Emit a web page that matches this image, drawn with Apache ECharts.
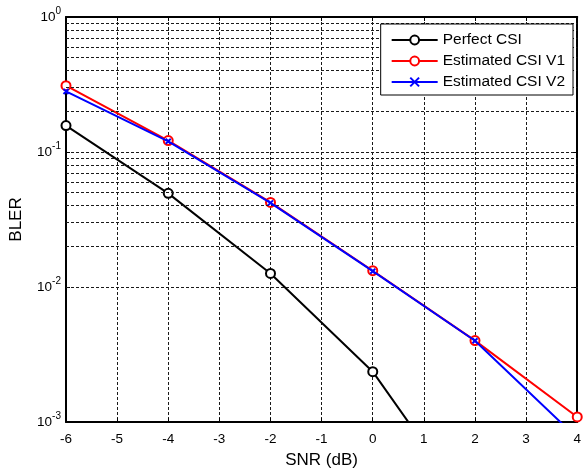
<!DOCTYPE html>
<html>
<head>
<meta charset="utf-8">
<script src="https://cdn.jsdelivr.net/npm/echarts@6/dist/echarts.min.js"></script>
<style>
  html, body { margin: 0; padding: 0; background: #fff; }
  #chart { width: 584px; height: 474px; }
</style>
</head>
<body>
<div id="chart"></div>
<script>
// SNR points (dB) and block error rates for each receiver variant
const snr = [-6, -4, -2, 0, 2, 4];
const perfectCsi = [0.157, 0.0494, 0.0126, 0.00236, 0.00020, null];
const estimatedV1 = [0.31, 0.1216, 0.0423, 0.0132, 0.00401, 0.00109];
const estimatedV2 = [0.281, 0.120, 0.0420, 0.0131, 0.00400, 0.00076];
const seriesNames = ['Perfect CSI', 'Estimated CSI V1', 'Estimated CSI V2'];
const xTickValues = [-6, -5, -4, -3, -2, -1, 0, 1, 2, 3, 4];
const decades = [0.001, 0.01, 0.1];
const minorSteps = [2, 3, 4, 5, 6, 7, 8, 9];

const font = 'Liberation Sans, Arial, Helvetica, sans-serif';
const dash = [3, 2];
const gridColor = '#1a1a1a';

// log-axis minor grid at 2..9 × each decade
const minorGrid = [];
decades.forEach(d => minorSteps.forEach(m => minorGrid.push({ yAxis: +(d * m).toPrecision(3) })));

function pairs(ys) {
  return snr.map((x, i) => (ys[i] == null ? null : [x, ys[i]])).filter(p => p);
}

const crossPath = 'path://M0,0 L10,10 M10,0 L0,10 M0,0 L10,10';

const chart = echarts.init(document.getElementById('chart'), null, { renderer: 'canvas' });

const xCommon = {
  type: 'value', min: -6, max: 4, interval: 1,
  axisLine: { show: true, onZero: false, lineStyle: { color: '#000', width: 2 } },
  axisTick: { show: true, inside: true, length: 4, lineStyle: { color: '#000' } },
};
const yCommon = {
  type: 'log', logBase: 10, min: 0.001, max: 1,
  axisLine: { show: true, onZero: false, lineStyle: { color: '#000', width: 2 } },
  axisTick: { show: true, inside: true, length: 4, lineStyle: { color: '#000' } },
};

chart.setOption({
  animation: false,
  backgroundColor: '#fff',
  textStyle: { fontFamily: font },
  grid: { left: 65, right: 4, top: 17, bottom: 50.5, containLabel: false },
  xAxis: [
    Object.assign({}, xCommon, {
      position: 'bottom',
      name: 'SNR (dB)', nameLocation: 'middle', nameGap: 30,
      nameTextStyle: { fontSize: 17, color: '#000', fontFamily: font },
      axisLabel: { fontSize: 13.5, color: '#000', margin: 10, fontFamily: font,
        formatter: v => (xTickValues.includes(v) ? String(v) : '') },
      splitLine: { show: true, lineStyle: { color: gridColor, type: dash, width: 1 } },
    }),
    Object.assign({}, xCommon, {
      position: 'top', axisLabel: { show: false }, splitLine: { show: false },
    }),
  ],
  yAxis: [
    Object.assign({}, yCommon, {
      position: 'left',
      name: 'BLER', nameLocation: 'middle', nameGap: 41, nameRotate: 90,
      nameTextStyle: { fontSize: 17, color: '#000', fontFamily: font },
      axisLabel: {
        margin: 5, color: '#000',
        formatter: v => '{b|10}{s|' + Math.round(Math.log10(v)) + '}',
        rich: {
          b: { fontSize: 13.5, color: '#000', fontFamily: font },
          s: { fontSize: 10, color: '#000', fontFamily: font, padding: [0, 0, 12, 0] },
        },
      },
      splitLine: { show: true, lineStyle: { color: gridColor, type: dash, width: 1 } },
    }),
    Object.assign({}, yCommon, {
      position: 'right', axisLabel: { show: false }, splitLine: { show: false },
    }),
  ],
  legend: {
    data: seriesNames,
    orient: 'vertical',
    right: 11, top: 24, z: 20,
    padding: [8, 8, 5, 10],
    itemWidth: 46, itemHeight: 11, itemGap: 5,
    backgroundColor: '#fff',
    borderColor: '#000', borderWidth: 1, borderRadius: 0,
    textStyle: { fontSize: 15.5, color: '#000', fontFamily: font },
  },
  series: [
    {
      name: 'grid-minor', type: 'line', data: [], z: 1, silent: true,
      markLine: {
        silent: true, symbol: 'none', label: { show: false },
        lineStyle: { color: gridColor, type: dash, width: 1 },
        animation: false,
        data: minorGrid,
      },
    },
    {
      name: seriesNames[0], type: 'line', data: pairs(perfectCsi), z: 3,
      symbol: 'emptyCircle', symbolSize: 9, clip: true,
      lineStyle: { color: '#000', width: 2 },
      itemStyle: { color: '#000', borderColor: '#000', borderWidth: 2 },
    },
    {
      name: seriesNames[1], type: 'line', data: pairs(estimatedV1), z: 4,
      symbol: 'emptyCircle', symbolSize: 9, clip: true,
      lineStyle: { color: '#ff0000', width: 2 },
      itemStyle: { color: '#ff0000', borderColor: '#ff0000', borderWidth: 2 },
    },
    {
      name: seriesNames[2], type: 'line', data: pairs(estimatedV2), z: 5,
      symbol: crossPath, symbolSize: 5, clip: true,
      lineStyle: { color: '#0000ff', width: 2 },
      itemStyle: { color: '#0000ff', borderColor: '#0000ff', borderWidth: 2 },
    },
  ],
});
</script>
</body>
</html>
